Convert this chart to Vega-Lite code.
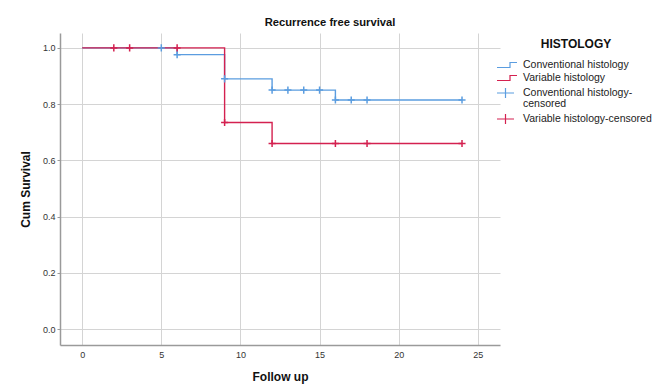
{
  "$schema": "https://vega.github.io/schema/vega-lite/v6.json",
  "autosize": "none",
  "width": 440,
  "height": 312,
  "padding": {"left": 60, "top": 33, "right": 157, "bottom": 46},
  "background": "white",
  "config": {
    "font": "Liberation Sans",
    "view": {"stroke": null},
    "axis": {
      "gridColor": "#d4d4d4",
      "gridWidth": 1,
      "domainColor": "#9a9a9a",
      "domainWidth": 1.5,
      "tickColor": "#9a9a9a",
      "labelFont": "Liberation Sans",
      "labelFontSize": 9,
      "labelColor": "#333333",
      "titleFont": "Liberation Sans",
      "titleFontSize": 12,
      "titleFontWeight": "bold",
      "titleColor": "#111111"
    }
  },
  "title": {
    "text": "Recurrence free survival",
    "font": "Liberation Sans",
    "fontSize": 11.2,
    "fontWeight": "bold",
    "color": "#111111",
    "anchor": "middle",
    "dx": 50,
    "offset": 5
  },
  "data": {
    "values": [
      {"series": "Conventional histology", "kind": "line", "time": 0, "surv": 1.0},
      {"series": "Conventional histology", "kind": "line", "time": 6, "surv": 0.976},
      {"series": "Conventional histology", "kind": "line", "time": 9, "surv": 0.89},
      {"series": "Conventional histology", "kind": "line", "time": 12, "surv": 0.85},
      {"series": "Conventional histology", "kind": "line", "time": 16, "surv": 0.815},
      {"series": "Conventional histology", "kind": "line", "time": 24, "surv": 0.815},
      {"series": "Variable histology", "kind": "line", "time": 0, "surv": 1.0},
      {"series": "Variable histology", "kind": "line", "time": 9, "surv": 0.735},
      {"series": "Variable histology", "kind": "line", "time": 12, "surv": 0.66},
      {"series": "Variable histology", "kind": "line", "time": 24, "surv": 0.66},
      {"series": "Conventional histology-censored", "kind": "censor", "time": 5, "surv": 1.0},
      {"series": "Conventional histology-censored", "kind": "censor", "time": 6, "surv": 0.976},
      {"series": "Conventional histology-censored", "kind": "censor", "time": 9, "surv": 0.89},
      {"series": "Conventional histology-censored", "kind": "censor", "time": 12, "surv": 0.85},
      {"series": "Conventional histology-censored", "kind": "censor", "time": 13, "surv": 0.85},
      {"series": "Conventional histology-censored", "kind": "censor", "time": 14, "surv": 0.85},
      {"series": "Conventional histology-censored", "kind": "censor", "time": 15, "surv": 0.85},
      {"series": "Conventional histology-censored", "kind": "censor", "time": 16, "surv": 0.815},
      {"series": "Conventional histology-censored", "kind": "censor", "time": 17, "surv": 0.815},
      {"series": "Conventional histology-censored", "kind": "censor", "time": 18, "surv": 0.815},
      {"series": "Conventional histology-censored", "kind": "censor", "time": 24, "surv": 0.815},
      {"series": "Variable histology-censored", "kind": "censor", "time": 2, "surv": 1.0},
      {"series": "Variable histology-censored", "kind": "censor", "time": 3, "surv": 1.0},
      {"series": "Variable histology-censored", "kind": "censor", "time": 6, "surv": 1.0},
      {"series": "Variable histology-censored", "kind": "censor", "time": 9, "surv": 0.735},
      {"series": "Variable histology-censored", "kind": "censor", "time": 12, "surv": 0.66},
      {"series": "Variable histology-censored", "kind": "censor", "time": 16, "surv": 0.66},
      {"series": "Variable histology-censored", "kind": "censor", "time": 18, "surv": 0.66},
      {"series": "Variable histology-censored", "kind": "censor", "time": 24, "surv": 0.66}
    ]
  },
  "encoding": {
    "x": {
      "field": "time",
      "type": "quantitative",
      "scale": {"domain": [-1.4, 26.4], "nice": false, "zero": false},
      "axis": {"title": "Follow up", "values": [0, 5, 10, 15, 20, 25], "tickSize": 0, "labelPadding": 5, "titlePadding": 12}
    },
    "y": {
      "field": "surv",
      "type": "quantitative",
      "scale": {"domain": [-0.056, 1.053], "nice": false, "zero": false},
      "axis": {"title": "Cum Survival", "values": [0, 0.2, 0.4, 0.6, 0.8, 1.0], "format": ".1f", "tickSize": 3, "labelPadding": 2, "titlePadding": 10}
    },
    "color": {
      "field": "series",
      "type": "nominal",
      "scale": {
        "domain": ["Conventional histology", "Variable histology", "Conventional histology-censored", "Variable histology-censored"],
        "range": ["#5b9de0", "#d42150", "#5b9de0", "#d42150"]
      }
    }
  },
  "layer": [
    {
      "transform": [{"filter": "datum.kind == 'line'"}],
      "mark": {"type": "line", "interpolate": "step-after", "strokeWidth": 1.4},
      "encoding": {
        "color": {
          "field": "series",
          "type": "nominal",
          "legend": {
            "title": "HISTOLOGY",
            "orient": "none",
            "legendX": 441,
            "legendY": 6,
            "titleFont": "Liberation Sans",
            "titleFontSize": 12,
            "titleFontWeight": "bold",
            "titleColor": "#111111",
            "titleAnchor": "middle",
            "titlePadding": 8,
            "labelFont": "Liberation Sans",
            "labelFontSize": 10.5,
            "labelColor": "#222222",
            "labelOffset": 10,
            "symbolSize": 100,
            "rowPadding": 1,
            "labelExpr": "datum.label == 'Conventional histology-censored' ? ['Conventional histology-', 'censored'] : datum.label",
            "encode": {
              "labels": {
                "update": {
                  "lineHeight": {"value": 11}
                }
              },
              "symbols": {
                "update": {
                  "shape": {"signal": "indexof(datum.value, 'censored') > 0 ? 'M-2,0H1.4M-0.3,-1V1' : 'M-2,0.5H0.6V-0.5H2'"},
                  "stroke": {"scale": "color", "field": "value"},
                  "fill": {"value": "transparent"},
                  "strokeWidth": {"value": 1.2}
                }
              }
            }
          }
        }
      }
    },
    {
      "transform": [{"filter": "datum.kind == 'censor'"}],
      "mark": {"type": "point", "shape": "M-1,0H1M0,-1V1", "size": 50, "filled": false, "strokeWidth": 1.5, "opacity": 1},
      "encoding": {
        "color": {"field": "series", "type": "nominal", "legend": null}
      }
    }
  ]
}
